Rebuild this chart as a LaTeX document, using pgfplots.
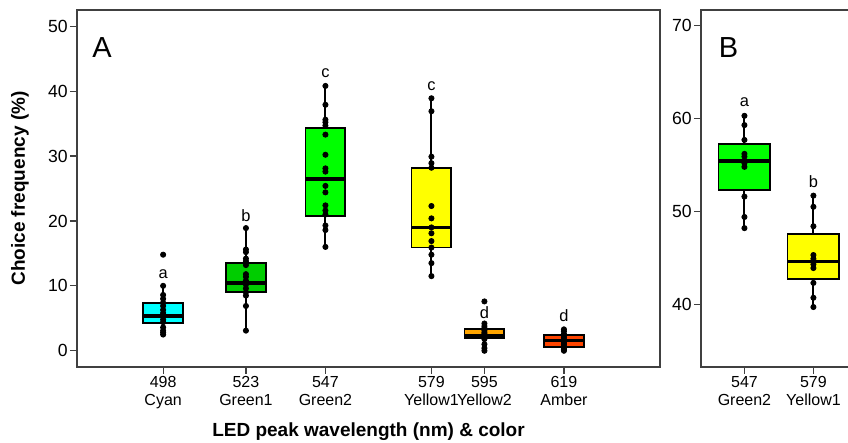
\documentclass[border=0pt]{standalone}
\usepackage{fontspec}
\setmainfont{Liberation Sans}
\usepackage{pgfplots}
\pgfplotsset{compat=1.18}
\definecolor{ledcyan}{HTML}{00FFFF}
\definecolor{ledgreenA}{HTML}{00CD00}
\definecolor{ledgreenB}{HTML}{00FF00}
\definecolor{ledyellowA}{HTML}{FFFF00}
\definecolor{ledyellowB}{HTML}{FFA500}
\definecolor{ledamber}{HTML}{FF4500}
\definecolor{framec}{HTML}{404040}

\pgfplotsset{
  panel/.style={
    scale only axis, height=178.5pt, clip=false,
    axis line style={draw=framec, line width=0.6pt},
    tick style={draw=framec, line width=0.6pt},
    major tick length=3.5pt, tick align=outside,
    xtick pos=left, ytick pos=left,
    /pgf/number format/assume math mode=true,
    yticklabel style={font=\fontsize{8.8}{10}\selectfont, inner sep=1pt},
    xticklabel style={font=\fontsize{8}{9}\selectfont, align=center, inner sep=1pt},
  },
  pts/.style={only marks, mark=*, mark size=1.3pt, black},
  lett/.style={only marks, mark=none, point meta=explicit symbolic,
    nodes near coords, nodes near coords align={center},
    every node near coord/.style={font=\fontsize{8.2}{9}\selectfont, inner sep=0pt}},
}
% box: #1 centre, #2 left, #3 right, #4 lower whisker, #5 Q1, #6 median, #7 Q3, #8 upper whisker, #9 fill
\newcommand\ledbox[9]{%
  \addplot[black, line width=1pt, mark=none] coordinates {(#1,#4) (#1,#5)};
  \addplot[black, line width=1pt, mark=none] coordinates {(#1,#7) (#1,#8)};
  \addplot[draw=black, line width=0.9pt, fill=#9, mark=none] coordinates {(#2,#5) (#3,#5) (#3,#7) (#2,#7)} --cycle;
  \addplot[black, line width=1.8pt, mark=none] coordinates {(#2,#6) (#3,#6)};
}

\begin{document}
\begin{tikzpicture}
% ---------------- panel A
\begin{axis}[panel, at={(38.5pt,38pt)}, anchor=south west,
  width=291.5pt, xmin=472, xmax=648, ymin=-2.5, ymax=52.5,
  ytick={0,10,20,30,40,50},
  xtick={498,523,547,579,595,619},
  xticklabels={498\\Cyan,523\\Green1,547\\Green2,579\\Yellow1,595\\Yellow2,619\\Amber},
  ylabel={Choice frequency (\%)}, xlabel={LED peak wavelength (nm) \& color},
  every axis y label/.style={at={(rel axis cs:0,0.5)}, xshift=-28.5pt, rotate=90, anchor=center,
    font=\fontsize{9.5}{10}\selectfont\bfseries},
  every axis x label/.style={at={(rel axis cs:0.5,0)}, yshift=-32.5pt, anchor=center,
    font=\fontsize{9.5}{10}\selectfont\bfseries},
]
\ledbox{498}{492}{504}{2.5}{4.26}{5.4}{7.3}{10.0}{ledcyan}
\addplot[pts] coordinates {(498,14.8) (498,10.0) (498,8.6) (498,8.0) (498,7.4) (498,6.9) (498,6.3)
  (498,5.8) (498,5.3) (498,4.8) (498,4.4) (498,3.6) (498,3.1) (498,2.8) (498,2.5)};

\ledbox{523}{517}{529}{3.1}{9.0}{10.4}{13.5}{18.9}{ledgreenA}
\addplot[pts] coordinates {(523,18.9) (523,15.6) (523,15.2) (523,14.2) (523,13.8) (523,13.2)
  (523,11.8) (523,11.4) (523,10.8) (523,10.2) (523,9.6) (523,9.0) (523,8.5) (523,6.9) (523,3.1)};

\ledbox{547}{541}{553}{16.0}{20.8}{26.5}{34.3}{40.8}{ledgreenB}
\addplot[pts] coordinates {(547,40.8) (547,37.9) (547,35.6) (547,35.2) (547,34.7) (547,33.3)
  (547,30.2) (547,28.1) (547,27.6) (547,25.4) (547,24.4) (547,22.4) (547,21.6) (547,21.0)
  (547,19.3) (547,18.6) (547,16.0)};

\ledbox{579}{573}{585}{11.5}{15.9}{19.0}{28.2}{38.9}{ledyellowA}
\addplot[pts] coordinates {(579,38.9) (579,36.9) (579,29.9) (579,28.9) (579,28.2) (579,22.3)
  (579,20.4) (579,19.0) (579,18.1) (579,16.9) (579,15.9) (579,14.8) (579,13.5) (579,11.5)};

\ledbox{595}{589}{601}{0.0}{1.9}{2.3}{3.3}{4.2}{ledyellowB}
\addplot[pts] coordinates {(595,7.6) (595,4.2) (595,3.8) (595,3.5) (595,3.1) (595,2.8) (595,2.6)
  (595,2.4) (595,2.2) (595,2.0) (595,1.8) (595,1.0) (595,0.4) (595,0.0)};

\ledbox{619}{613}{625}{0.0}{0.6}{1.6}{2.4}{3.3}{ledamber}
\addplot[pts] coordinates {(619,3.3) (619,3.0) (619,2.6) (619,2.3) (619,2.0) (619,1.7) (619,1.4)
  (619,1.2) (619,1.0) (619,0.7) (619,0.4) (619,0.2) (619,0.0)};

\addplot[lett] table[meta=lab] {
x y lab
498 11.8 a
523 20.8 b
547 42.8 c
579 40.8 c
595 5.8 d
619 5.4 d
};
\node[anchor=north west, inner sep=0pt, font=\fontsize{14.5}{16}\selectfont]
  at (rel axis cs:0,1) [xshift=7.5pt, yshift=-13.5pt] {A};
\end{axis}

% ---------------- panel B
\begin{axis}[panel, at={(350.5pt,38pt)}, anchor=south west,
  width=76.9pt, xmin=0.37, xmax=2.6, ymin=33.24, ymax=71.7,
  ytick={40,50,60,70},
  xtick={1,2}, xticklabels={547\\Green2,579\\Yellow1},
]
\ledbox{1}{0.625}{1.375}{48.2}{52.3}{55.4}{57.3}{60.3}{ledgreenB}
\addplot[pts] coordinates {(1,60.3) (1,59.3) (1,57.7) (1,56.2) (1,55.9) (1,55.2) (1,54.8)
  (1,51.6) (1,49.4) (1,48.2)};

\ledbox{2}{1.625}{2.375}{39.7}{42.7}{44.6}{47.6}{51.7}{ledyellowA}
\addplot[pts] coordinates {(2,51.7) (2,50.5) (2,48.4) (2,45.3) (2,44.9) (2,44.3) (2,43.9)
  (2,42.3) (2,40.7) (2,39.7)};

\addplot[lett] table[meta=lab] {
x y lab
1 61.8 a
2 53.2 b
};
\node[anchor=north west, inner sep=0pt, font=\fontsize{14.5}{16}\selectfont]
  at (rel axis cs:0,1) [xshift=8.7pt, yshift=-13.8pt] {B};
\end{axis}
\pgfresetboundingbox
\useasboundingbox (0,0) rectangle (424pt,221.5pt);
\end{tikzpicture}
\end{document}
